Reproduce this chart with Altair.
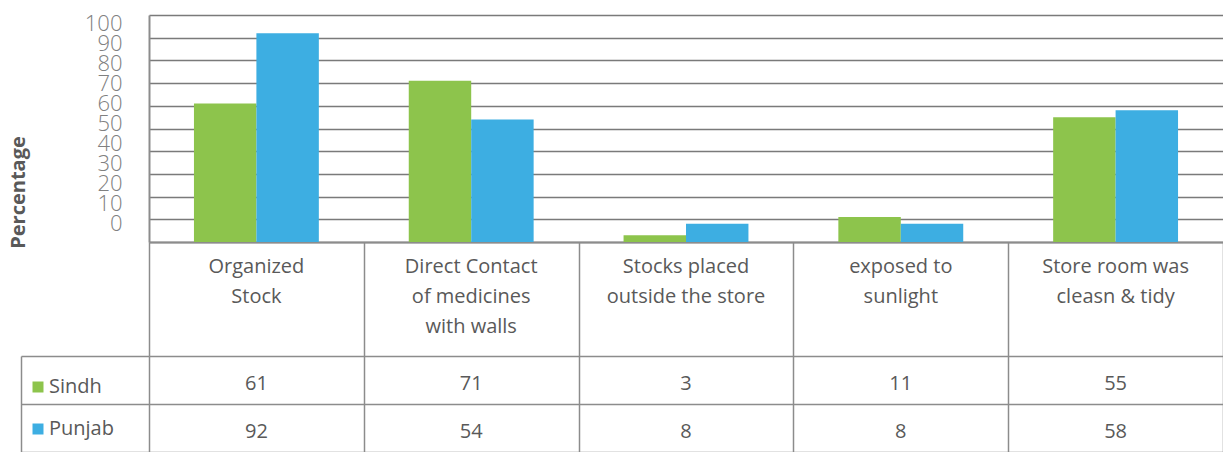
import altair as alt
import pandas as pd

categories = [
    "Organized Stock",
    "Direct Contact of medicines with walls",
    "Stocks placed outside the store",
    "exposed to sunlight",
    "Store room was cleasn & tidy",
]
category_labels = [
    "Organized\nStock",
    "Direct Contact\nof medicines\nwith walls",
    "Stocks placed\noutside the store",
    "exposed to\nsunlight",
    "Store room was\ncleasn & tidy",
]
series = ["Sindh", "Punjab"]
sindh = [61, 71, 3, 11, 55]
punjab = [92, 54, 8, 8, 58]
y_ticks = [0, 10, 20, 30, 40, 50, 60, 70, 80, 90, 100]
colors = ["#8dc44c", "#3daee2"]

rows = []
for s, vals in zip(series, [sindh, punjab]):
    for c, v in zip(categories, vals):
        rows.append({"cat": c, "series": s, "value": v})
df = pd.DataFrame(rows)
labels_df = pd.DataFrame({"cat": categories, "label": category_labels})
ticks_df = pd.DataFrame({"tick": y_ticks})

W = 1074
TEXT = "#595959"
LINE = "#8c8c8c"
FONT = "Open Sans"

x_scale = alt.Scale(domain=categories, paddingInner=0, paddingOuter=0)

bars = alt.Chart(df).mark_bar().encode(
    x=alt.X("cat:N", scale=x_scale,
            axis=alt.Axis(labels=False, ticks=False, title=None, domain=True,
                          domainColor=LINE, domainWidth=2)),
    xOffset=alt.XOffset("series:N", scale=alt.Scale(domain=series, paddingInner=0, paddingOuter=0.72)),
    y=alt.Y("value:Q", scale=alt.Scale(domain=[0, 100], nice=False),
            axis=alt.Axis(values=y_ticks, labels=False, ticks=False, domain=False,
                          grid=True, gridColor="#7a7a7a", gridWidth=1.5, title=None)),
    color=alt.Color("series:N", scale=alt.Scale(domain=series, range=colors),
                    legend=alt.Legend(orient="none", legendX=-121, legendY=362,
                                      direction="vertical", title=None,
                                      symbolType="square", symbolSize=121,
                                      symbolStrokeWidth=0, symbolOpacity=1,
                                      labelFontSize=20, labelColor=TEXT, labelFont=FONT,
                                      labelOffset=1, rowPadding=22, padding=0)),
)

tick_layer = alt.Chart(ticks_df).mark_point(opacity=0).encode(
    y=alt.Y("tick:Q", scale=alt.Scale(domain=[-9.35, 104.15], nice=False, zero=False),
            axis=alt.Axis(orient="left", values=y_ticks, grid=False, ticks=False,
                          domain=True, domainColor=LINE, domainWidth=2,
                          labelFontSize=22, labelFont=FONT, labelFontWeight=300,
                          labelColor="#808080", labelPadding=27, labelOverlap=False,
                          title="Percentage", titleFontSize=20, titleFont=FONT,
                          titleFontWeight="bold", titleColor=TEXT,
                          titleX=-121, titleY=177, titleBaseline="bottom")),
)

panel1 = alt.layer(bars, tick_layer).resolve_scale(y="independent").properties(width=W, height=227)

header = alt.Chart(labels_df).mark_text(
    baseline="top", dy=-42, fontSize=20, lineHeight=30, lineBreak="\n", color=TEXT, font=FONT
).encode(
    x=alt.X("cat:N", scale=x_scale,
            axis=alt.Axis(labels=False, ticks=False, domain=False, title=None,
                          grid=True, tickBand="extent", gridColor=LINE, gridWidth=1.5)),
    text="label:N",
).properties(width=W, height=114)

num = alt.Chart(df).mark_text(fontSize=20, color=TEXT, font=FONT, dy=4).encode(
    x=alt.X("cat:N", scale=x_scale,
            axis=alt.Axis(labels=False, ticks=False, domain=False, title=None,
                          grid=True, tickBand="extent", gridColor=LINE, gridWidth=1.5)),
    y=alt.Y("series:N", scale=alt.Scale(domain=series, paddingInner=0, paddingOuter=0),
            axis=alt.Axis(labels=False, ticks=True, tickSize=128, tickColor=LINE, tickWidth=1.5,
                          tickBand="extent", grid=True, gridColor=LINE, gridWidth=1.5,
                          domain=False, title=None)),
    text="value:Q",
)
border = alt.Chart(df).mark_text(opacity=0).encode(
    y=alt.Y("series:N", scale=alt.Scale(domain=series),
            axis=alt.Axis(orient="left", offset=128, labels=False, ticks=False, grid=False,
                          domain=True, domainColor=LINE, domainWidth=1.5, title=None)),
    text="value:Q",
)
rows_panel = alt.layer(num, border).resolve_scale(y="independent").properties(width=W, height=96)

chart = alt.vconcat(panel1, header, rows_panel, spacing=0, bounds="flush").properties(
    padding={"left": 0, "top": 4, "right": 0, "bottom": 0}
).configure(font=FONT).configure_view(stroke=None)

chart.save("out.html", embed_options={"renderer": "svg", "actions": False})
